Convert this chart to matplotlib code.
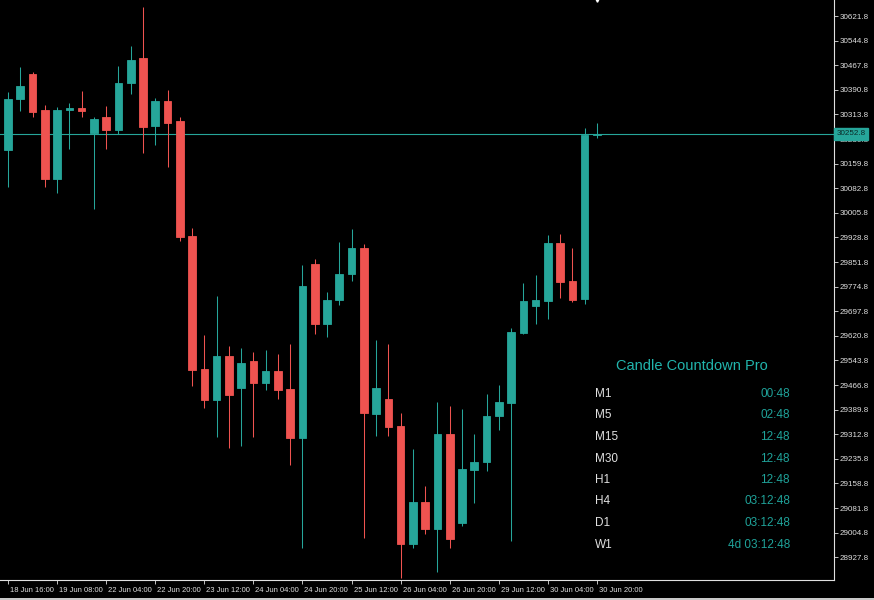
import matplotlib
matplotlib.use("Agg")
import matplotlib.pyplot as plt
import matplotlib.transforms as mtransforms
from matplotlib.patches import Rectangle

# H4 candles
opens = [30203.3, 30361.1, 30439.3, 30326.6, 30112.6, 30328.5, 30333.8, 30256.5, 30304.7, 30265.0,
         30411.2, 30490.3, 30276.6, 30355.8, 30293.2, 29933.2, 29516.9, 29420.8, 29557.6, 29458.4,
         29542.0, 29473.1, 29510.7, 29455.3, 29300.9, 29846.5, 29658.7, 29731.9, 29815.2, 29895.6,
         29376.1, 29423.0, 29338.5, 28969.2, 29099.7, 29016.1, 29313.5, 29035.8, 29200.8, 29224.9,
         29368.9, 29411.4, 29630.5, 29714.1, 29731.3, 29910.7, 29792.4, 29736.0, 30250.3]
highs = [30383.9, 30463.1, 30446.5, 30342.3, 30337.9, 30350.4, 30388.0, 30304.7, 30340.1, 30466.2,
         30527.9, 30649.0, 30366.1, 30390.2, 30306.6, 29957.3, 29623.3, 29745.4, 29589.8, 29582.6,
         29570.1, 29576.4, 29562.9, 29595.2, 29843.4, 29861.2, 29757.9, 29913.5, 29955.1, 29908.2,
         29607.7, 29594.2, 29378.3, 29265.6, 29149.8, 29413.6, 29400.2, 29390.8, 29313.5, 29437.7,
         29465.9, 29646.2, 29787.0, 29811.1, 29934.8, 29940.1, 29895.6, 30270.3, 30287.8]
lows = [30086.6, 30324.5, 30306.6, 30086.6, 30068.7, 30206.5, 30304.7, 30018.7, 30206.5, 30251.5,
        30378.6, 30192.1, 30218.0, 30150.1, 29918.5, 29464.6, 29395.8, 29305.0, 29270.6, 29275.0,
        29303.1, 29452.1, 29424.0, 29217.4, 28957.6, 29627.4, 29616.1, 29717.2, 29793.3, 28988.9,
        29307.2, 29306.3, 28861.8, 28955.7, 28999.5, 28882.5, 28957.6, 29026.4, 29096.5, 29198.6,
        29326.0, 28978.6, 29626.5, 29656.8, 29674.4, 29740.7, 29727.6, 29719.4, 30239.0]
closes = [30362.0, 30402.7, 30321.3, 30112.6, 30328.5, 30333.8, 30324.5, 30299.4, 30265.0, 30412.1,
          30484.1, 30274.4, 30354.8, 30287.8, 29930.1, 29514.7, 29420.8, 29557.6, 29436.5, 29535.7,
          29473.1, 29510.7, 29452.1, 29300.9, 29776.7, 29658.7, 29732.9, 29814.3, 29895.6, 29378.3,
          29456.5, 29335.4, 28969.2, 29100.6, 29015.2, 29313.5, 28983.9, 29203.0, 29225.8, 29368.9,
          29413.6, 29632.7, 29728.8, 29732.9, 29910.7, 29790.8, 29732.9, 30250.3, 30252.8]

time_labels = ["18 Jun 16:00", "19 Jun 08:00", "22 Jun 04:00", "22 Jun 20:00", "23 Jun 12:00",
               "24 Jun 04:00", "24 Jun 20:00", "25 Jun 12:00", "26 Jun 04:00", "26 Jun 20:00",
               "29 Jun 12:00", "30 Jun 04:00", "30 Jun 20:00"]
price_ticks = [28927.8 + 77 * k for k in range(23)]
current_price = 30252.8

timeframes = ["M1", "M5", "M15", "M30", "H1", "H4", "D1", "W1"]
countdowns = ["00:48", "02:48", "12:48", "12:48", "12:48", "03:12:48", "03:12:48", "4d 03:12:48"]

GREEN = "#26a69a"
RED = "#ef5350"
FG = "#e0e0e0"
FONT = "Liberation Sans"

fig = plt.figure(figsize=(8.74, 6.0), dpi=100, facecolor="black")
ax = fig.add_axes([0, 20 / 600, 834 / 874, 580 / 600], facecolor="black")

x = list(range(len(opens)))
cols = [GREEN if c >= o else RED for o, c in zip(opens, closes)]
ax.vlines(x, lows, highs, colors=cols, linewidth=0.75, zorder=2)
bottoms = [min(o, c) for o, c in zip(opens, closes)]
heights = [abs(c - o) for o, c in zip(opens, closes)]
ax.bar(x, heights, bottom=bottoms, width=0.62, color=cols, edgecolor=cols,
       linewidth=0.6, zorder=3)

# current price line + label
ax.axhline(current_price, color=GREEN, linewidth=0.8, zorder=1)

ax.set_xlim(-0.652, 67.32)
ax.set_ylim(28856.5, 30671.9)

for s in ["left", "top"]:
    ax.spines[s].set_visible(False)
for s in ["right", "bottom"]:
    ax.spines[s].set_color(FG)
    ax.spines[s].set_linewidth(0.8)

ax.yaxis.tick_right()
ax.set_yticks(price_ticks)
ax.set_yticklabels(["%.1f" % v for v in price_ticks], fontsize=5.8, family=FONT, color=FG)
ax.tick_params(axis="y", colors=FG, length=3, width=0.6, pad=1)

ax.set_xticks(x[::4])
ax.set_xticklabels(time_labels, fontsize=5.5, family=FONT, color=FG)
ax.tick_params(axis="x", colors=FG, length=3, width=0.6, pad=2)
off = mtransforms.ScaledTranslation(2 / 100, 0, fig.dpi_scale_trans)
for lab in ax.get_xticklabels():
    lab.set_ha("left")
    lab.set_transform(lab.get_transform() + off)

ax.text(1.003, current_price, "%.1f" % current_price, transform=ax.get_yaxis_transform(),
        fontsize=5.8, family=FONT, color="#0a2a28", va="center", ha="left", clip_on=False,
        bbox=dict(boxstyle="square,pad=0.3", facecolor=GREEN, edgecolor=GREEN), zorder=5)

ax.plot([48], [30671.9], marker="v", markersize=2.5, color="white", clip_on=False, zorder=6)

# countdown panel
fig.text(692 / 874, 1 - 366 / 600, "Candle Countdown Pro", fontsize=10.5, family=FONT,
         color="#22b5ad", ha="center", va="center")
row_y = [394, 415.5, 437, 458.5, 480, 501.5, 523, 544.5]
for tf, cd, yy in zip(timeframes, countdowns, row_y):
    fig.text(595 / 874, 1 - yy / 600, tf, fontsize=8.5, family=FONT, color=FG,
             ha="left", va="center")
    fig.text(790 / 874, 1 - yy / 600, cd, fontsize=8.5, family=FONT, color="#1fa39a",
             ha="right", va="center")

fig.patches.append(Rectangle((0, 0), 1, 2.5 / 600, transform=fig.transFigure,
                             facecolor="#c8c8c8", edgecolor="none"))

fig.savefig("out.png", dpi=100, facecolor="black")
